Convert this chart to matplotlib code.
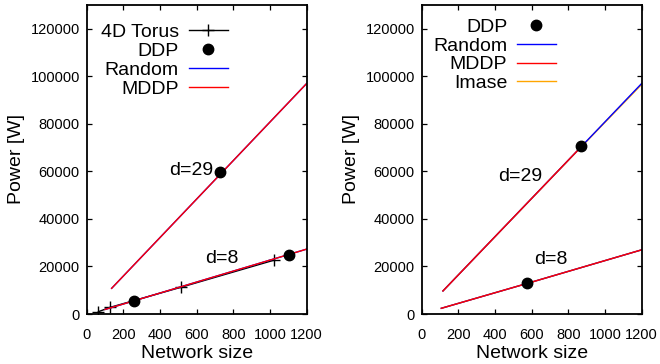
import matplotlib
matplotlib.use("Agg")
import matplotlib.pyplot as plt

plt.rcParams['font.family'] = ['Liberation Sans', 'DejaVu Sans']

# left panel data
torus_x = [64, 128, 512, 1024]
torus_y = [970, 2800, 11200, 22700]
ddp_left_x = [256, 725, 1104]
ddp_left_y = [5500, 59600, 24700]
d29_left_x = [136, 725, 1200]
d29_left_y = [10800, 58500, 97000]
d8_left_x = [100, 256, 1200]
d8_left_y = [1900, 5500, 27300]

# right panel data
ddp_right_x = [577, 869]
ddp_right_y = [12900, 70600]
d29_rand_x = [116, 869, 1200]
d29_rand_y = [9700, 70300, 97000]
d29_mddp_x = [116, 869]
d29_mddp_y = [9700, 70300]
d29_imase_x = [116, 869, 1200]
d29_imase_y = [9700, 70200, 96600]
d8_right_x = [107, 577, 1200]
d8_right_y = [2400, 12900, 27000]

yticks = [0, 20000, 40000, 60000, 80000, 100000, 120000]
xticks = [0, 200, 400, 600, 800, 1000, 1200]

fig = plt.figure(figsize=(6.6, 3.64), dpi=100)
ax1 = fig.add_axes([86.7/660, 1-314/364, 220/660, 309/364])
ax2 = fig.add_axes([421.7/660, 1-314/364, 220/660, 309/364])


def style(ax):
    ax.set_xlim(0, 1200)
    ax.set_ylim(0, 130000)
    ax.set_xticks(xticks)
    ax.set_yticks(yticks)
    ax.tick_params(direction='in', top=True, right=True, length=3.6,
                   width=0.9, labelsize=10.5)
    ax.tick_params(axis='x', pad=10)
    ax.tick_params(axis='y', pad=5)
    for s in ax.spines.values():
        s.set_linewidth(1.3)
    ax.set_xlabel('Network size', fontsize=14)
    ax.set_ylabel('Power [W]', fontsize=14)
    ax.xaxis.set_label_coords(0.5, -0.10)
    ax.yaxis.set_label_coords(-0.28, 0.5)


# left
ax1.plot(torus_x, torus_y, color='black', lw=1.0, marker='+', ms=8, mew=1.0,
         label='4D Torus')
ax1.plot(ddp_left_x, ddp_left_y, 'o', color='black', ms=7.5, label='DDP',
         zorder=5)
ax1.plot(d29_left_x, d29_left_y, color='blue', lw=1.0, label='Random')
ax1.plot(d8_left_x, d8_left_y, color='blue', lw=1.0)
ax1.plot(d29_left_x, d29_left_y, color='red', lw=1.0, label='MDDP')
ax1.plot(d8_left_x, d8_left_y, color='red', lw=1.0)
ax1.text(690, 60500, 'd=29', fontsize=14, ha='right', va='center')
ax1.text(645, 23300, 'd=8', fontsize=14, ha='left', va='center')
style(ax1)
ax1.legend(loc='upper right', bbox_to_anchor=(0.64, 0.942), frameon=False,
           markerfirst=False, fontsize=14, handlelength=2.0,
           handletextpad=0.5, labelspacing=0.08, borderpad=0,
           borderaxespad=0)

# right
ax2.plot(ddp_right_x, ddp_right_y, 'o', color='black', ms=7.5, label='DDP',
         zorder=5)
ax2.plot(d29_imase_x, d29_imase_y, color='orange', lw=1.0)
ax2.plot(d8_right_x, d8_right_y, color='orange', lw=1.0)
ax2.plot(d29_rand_x, d29_rand_y, color='blue', lw=1.0, label='Random')
ax2.plot(d8_right_x, d8_right_y, color='blue', lw=1.0)
ax2.plot(d29_mddp_x, d29_mddp_y, color='red', lw=1.0, label='MDDP')
ax2.plot(d8_right_x, d8_right_y, color='red', lw=1.0)
ax2.plot([], [], color='orange', lw=1.0, label='Imase')
ax2.text(416, 58000, 'd=29', fontsize=14, ha='left', va='center')
ax2.text(612, 22900, 'd=8', fontsize=14, ha='left', va='center')
style(ax2)
ax2.legend(loc='upper right', bbox_to_anchor=(0.61, 0.957), frameon=False,
           markerfirst=False, fontsize=14, handlelength=2.0,
           handletextpad=0.5, labelspacing=0.06, borderpad=0,
           borderaxespad=0)

fig.savefig('out.png', dpi=100)
